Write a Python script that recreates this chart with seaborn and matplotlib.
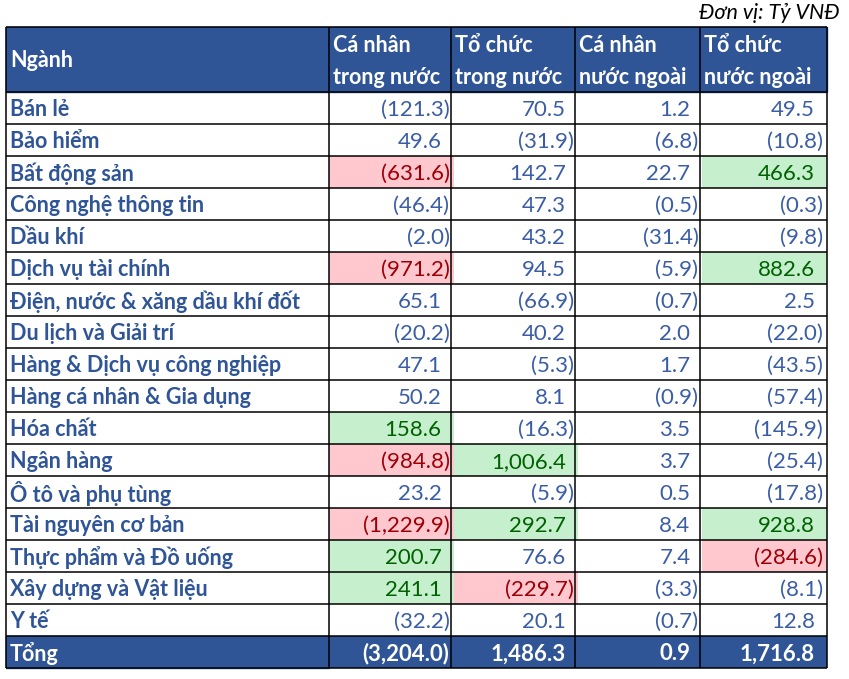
import numpy as np
import pandas as pd
import seaborn as sns
import matplotlib.pyplot as plt
from matplotlib.colors import ListedColormap
from matplotlib.patches import Rectangle
from matplotlib import transforms

# Dữ liệu bảng (Tỷ VNĐ)
sectors = ["Bán lẻ", "Bảo hiểm", "Bất động sản", "Công nghệ thông tin", "Dầu khí",
           "Dịch vụ tài chính", "Điện, nước & xăng dầu khí đốt", "Du lịch và Giải trí",
           "Hàng & Dịch vụ công nghiệp", "Hàng cá nhân & Gia dụng", "Hóa chất",
           "Ngân hàng", "Ô tô và phụ tùng", "Tài nguyên cơ bản", "Thực phẩm và Đồ uống",
           "Xây dựng và Vật liệu", "Y tế"]
ca_nhan_trong_nuoc = [-121.3, 49.6, -631.6, -46.4, -2.0, -971.2, 65.1, -20.2, 47.1, 50.2,
                      158.6, -984.8, 23.2, -1229.9, 200.7, 241.1, -32.2]
to_chuc_trong_nuoc = [70.5, -31.9, 142.7, 47.3, 43.2, 94.5, -66.9, 40.2, -5.3, 8.1,
                      -16.3, 1006.4, -5.9, 292.7, 76.6, -229.7, 20.1]
ca_nhan_nuoc_ngoai = [1.2, -6.8, 22.7, -0.5, -31.4, -5.9, -0.7, 2.0, 1.7, -0.9,
                      3.5, 3.7, 0.5, 8.4, 7.4, -3.3, -0.7]
to_chuc_nuoc_ngoai = [49.5, -10.8, 466.3, -0.3, -9.8, 882.6, 2.5, -22.0, -43.5, -57.4,
                      -145.9, -25.4, -17.8, 928.8, -284.6, -8.1, 12.8]
tong = [-3204.0, 1486.3, 0.9, 1716.8]
col_headers = ["Cá nhân\ntrong nước", "Tổ chức\ntrong nước", "Cá nhân\nnước ngoài", "Tổ chức\nnước ngoài"]
HIGHLIGHT = 150  # ngưỡng tô màu

NAVY = "#2F5597"
BLUE_TXT = "#2F5597"
NUM_TXT = "#3A5DA6"
RED_FILL, RED_TXT = "#FFC7CE", "#9C0006"
GREEN_FILL, GREEN_TXT = "#C6EFCE", "#006100"

df = pd.DataFrame({
    "cn_tn": ca_nhan_trong_nuoc, "tc_tn": to_chuc_trong_nuoc,
    "cn_nn": ca_nhan_nuoc_ngoai, "tc_nn": to_chuc_nuoc_ngoai,
}, index=sectors)
vals = np.vstack([df.values, np.array(tong)])

# 0 trắng, 1 đỏ, 2 xanh lá, 3 xanh đậm (dòng tổng)
cats = np.zeros(vals.shape)
cats[vals < -HIGHLIGHT] = 1
cats[vals > HIGHLIGHT] = 2
cats[-1, :] = 3

def fmt(v):
    s = f"{abs(v):,.1f}"
    return f"({s})" if v < 0 else s

labels = np.vectorize(fmt)(vals)

sns.set_theme(style="white")
plt.rcParams["font.family"] = ["Lato", "DejaVu Sans"]
FS = 15.5
FS_NUM = 16

W, H = 849, 679
fig = plt.figure(figsize=(W / 100, H / 100), dpi=100)

def px_axes(x0, y0, x1, y1):
    return fig.add_axes([x0 / W, 1 - y1 / H, (x1 - x0) / W, (y1 - y0) / H])

cols_x = [6, 329, 451, 575, 700, 827]
top, head_bot, row_h = 27, 92, 32
n_rows = len(sectors) + 1
bottom = head_bot + n_rows * row_h
DY = 2  # chữ hơi lệch xuống như Excel

# khối số liệu
hm_ax = px_axes(cols_x[1], head_bot, cols_x[-1], bottom)
sns.heatmap(cats, ax=hm_ax, cmap=ListedColormap(["white", RED_FILL, GREEN_FILL, NAVY]),
            vmin=-0.5, vmax=3.5, cbar=False, annot=labels, fmt="",
            annot_kws={"fontsize": FS_NUM}, linewidths=0, xticklabels=False, yticklabels=False)
ncol = vals.shape[1]
for k, t in enumerate(hm_ax.texts):
    i, j = divmod(k, ncol)
    v = vals[i, j]
    pad = -4 if v < 0 else -12
    t.set_transform(transforms.offset_copy(hm_ax.transData, fig=fig, x=pad, y=-DY, units="dots"))
    t.set_position((j + 1, i + 0.5))
    t.set_ha("right")
    if i == n_rows - 1:
        t.set_color("white")
        t.set_fontweight("bold")
    elif cats[i, j] == 1:
        t.set_color(RED_TXT)
    elif cats[i, j] == 2:
        t.set_color(GREEN_TXT)
    else:
        t.set_color(NUM_TXT)

# lớp phủ: tiêu đề, cột ngành, đường kẻ
ov = fig.add_axes([0, 0, 1, 1])
ov.set_xlim(0, W)
ov.set_ylim(H, 0)
ov.axis("off")
ov.add_patch(Rectangle((cols_x[0], top), cols_x[-1] - cols_x[0], head_bot - top, color=NAVY, zorder=0))
ov.add_patch(Rectangle((cols_x[0], bottom - row_h), cols_x[1] - cols_x[0], row_h, color=NAVY, zorder=0))

ov.text(10, (top + head_bot) / 2 + 1, "Ngành", color="white", fontweight="bold", fontsize=FS, va="center")
for j, h in enumerate(col_headers):
    l1, l2 = h.split("\n")
    ov.text(cols_x[j + 1] + 4, top + 19, l1, color="white", fontweight="bold", fontsize=FS, va="center")
    ov.text(cols_x[j + 1] + 4, top + 50, l2, color="white", fontweight="bold", fontsize=FS, va="center")

for i, s in enumerate(sectors + ["Tổng"]):
    ov.text(10, head_bot + (i + 0.5) * row_h + DY, s, fontweight="bold", fontsize=FS, va="center",
            color="white" if s == "Tổng" else BLUE_TXT)

ov.text(840, 13, "Đơn vị: Tỷ VNĐ", fontstyle="italic", fontsize=FS, ha="right", va="center", color="black")

ys = [top, head_bot] + [head_bot + (i + 1) * row_h for i in range(n_rows)]
ov.hlines(ys, cols_x[0], cols_x[-1], color="black", lw=1.1)
ov.vlines(cols_x, top, bottom, color="black", lw=1.1)

fig.savefig("out.png", dpi=100)
